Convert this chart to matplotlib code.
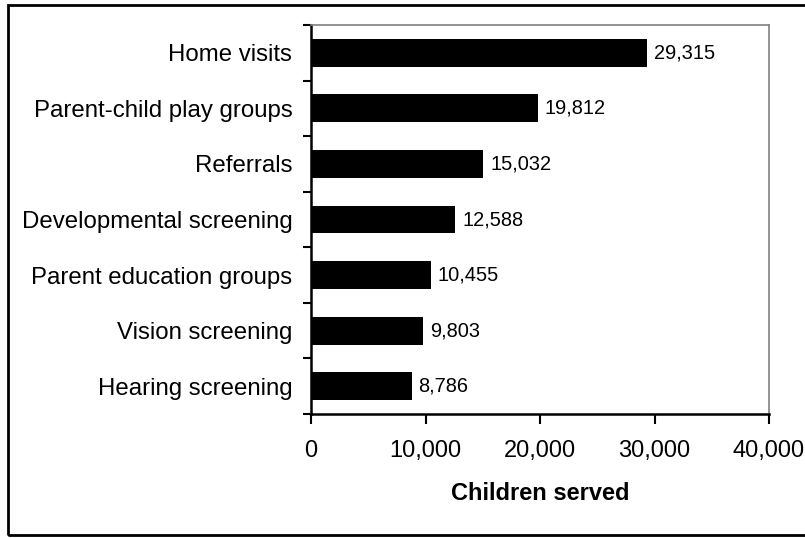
import numpy as np
import matplotlib
matplotlib.use('Agg')
import matplotlib.pyplot as plt
from matplotlib.patches import Rectangle
from matplotlib.ticker import FuncFormatter, FixedLocator

plt.rcParams['font.family'] = ['Liberation Sans', 'DejaVu Sans']

# Services provided, listed top to bottom
services = ['Home visits', 'Parent-child play groups', 'Referrals',
            'Developmental screening', 'Parent education groups',
            'Vision screening', 'Hearing screening']
children = [29315, 19812, 15032, 12588, 10455, 9803, 8786]
x_ticks = [0, 10000, 20000, 30000, 40000]

fig = plt.figure(figsize=(8.05, 5.38), dpi=100)
ax = fig.add_axes([311 / 805, 1 - 414 / 538, 458 / 805, 389 / 538])

y = np.arange(len(services))[::-1]
ax.barh(y, children, height=0.5, color='black')

for yi, v in zip(y, children):
    ax.annotate(f'{v:,}', (v, yi), xytext=(5, 0), textcoords='offset points',
                va='center', ha='left', fontsize=14.4)

ax.set_xlim(0, 40000)
ax.set_ylim(-0.5, len(services) - 0.5)
ax.set_xticks(x_ticks)
ax.xaxis.set_major_formatter(FuncFormatter(lambda v, p: f'{int(v):,}'))
ax.tick_params(axis='x', direction='out', length=7, width=1.5, labelsize=17, pad=12)

ax.set_yticks(y)
ax.set_yticklabels(services)
ax.tick_params(axis='y', which='major', length=0, labelsize=17.3, pad=13.5)
ax.yaxis.set_minor_locator(FixedLocator(np.arange(-0.5, len(services), 1.0)))
ax.tick_params(axis='y', which='minor', direction='out', length=6, width=1.5)

ax.set_xlabel('Children served', fontsize=17, fontweight='bold', labelpad=14)

for side in ('left', 'bottom'):
    ax.spines[side].set_color('black')
    ax.spines[side].set_linewidth(1.8)
for side in ('top', 'right'):
    ax.spines[side].set_color('#808080')
    ax.spines[side].set_linewidth(1.2)

# Outer frame around the whole chart
fig.patches.append(Rectangle((8 / 805, 1 - 535 / 538), 1.0, 530 / 538,
                             transform=fig.transFigure, fill=False,
                             edgecolor='black', linewidth=2, clip_on=False))

fig.savefig('out.png', dpi=100)
